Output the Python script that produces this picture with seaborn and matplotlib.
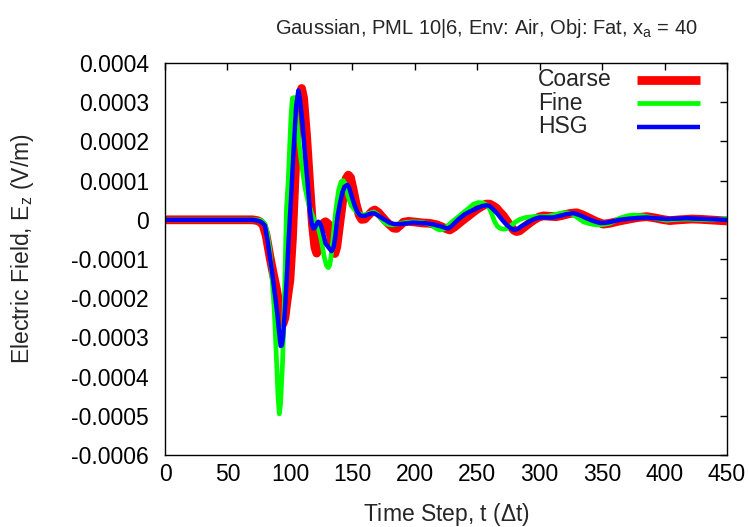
import numpy as np
import pandas as pd
import matplotlib
matplotlib.use("Agg")
import matplotlib.pyplot as plt
from matplotlib.lines import Line2D
import seaborn as sns

# Electric field samples (time step, E_z in V/m) for the three grid setups
coarse_t = [0, 70, 74, 76.5, 78.7, 81, 84, 86.5, 89.4, 91.5, 93, 94.5, 96, 98, 100,
            102, 104, 106, 107.8, 109.4, 111, 113.4, 116, 118, 120, 121.5, 123, 125,
            127, 128.5, 130.5, 132.5, 134, 136, 137.5, 139.5, 141.5, 143.5, 145, 146.8,
            148.5, 150.5, 153, 155.5, 157.5, 160, 163, 166, 168, 171, 174, 177, 180,
            182.8, 185.5, 188, 191, 195, 201, 206, 212, 218, 223, 228, 232, 235, 238.5,
            243, 249, 254, 257, 260, 263, 265.6, 268, 271, 274, 277, 279.5, 281.6, 284,
            288, 292, 296, 299.5, 303, 308, 313.5, 318, 324, 329.6, 334, 340, 345, 351,
            356, 364, 372, 379, 385.6, 392, 398, 404, 412, 422, 430, 440, 450]
coarse_e = [0, 0, -0.000002, -0.000006, -0.000015, -0.00004, -0.000094, -0.000135,
            -0.000179, -0.00022, -0.00025, -0.000265, -0.00025, -0.0002, -0.000154,
            -0.00005, 0.0001, 0.00023, 0.00031, 0.000335, 0.00031, 0.000212, 0.000084,
            -0.00001, -0.00007, -0.000085, -0.00007, -0.00003, -0.000008, -0.000005,
            -0.00001, -0.00004, -0.00007, -0.000086, -0.00007, -0.00002, 0.00003,
            0.00008, 0.000105, 0.000114, 0.000108, 0.00008, 0.00004, 0.000012, 0.000001,
            0.000002, 0.000012, 0.000022, 0.000025, 0.000018, 0.000007, -0.000004,
            -0.000013, -0.000021, -0.000022, -0.000015, -0.000006, -0.000004, -0.000006,
            -0.000008, -0.000009, -0.000013, -0.00002, -0.000026, -0.000018, -0.00001,
            -0.000001, 0.00001, 0.000025, 0.000035, 0.00004, 0.00004, 0.000035, 0.000029,
            0.00002, 0.00001, -0.000004, -0.000018, -0.000027, -0.00003, -0.000028,
            -0.000018, -0.000008, 0.000001, 0.000007, 0.00001, 0.000009, 0.000008,
            0.000011, 0.000016, 0.000018, 0.000013, 0.000004, -0.000004, -0.000011,
            -0.000009, -0.000003, 0.000002, 0.000006, 0.000008, 0.000005, 0.000001,
            -0.000002, 0, 0.000002, 0.000001, -0.000001, -0.000003]

fine_t = [0, 72, 76, 78, 80, 82, 84, 86, 87.5, 89.4, 90.5, 91.5, 92.5, 94.1, 95, 96,
          97.3, 98.7, 100, 101, 102, 103.3, 105, 106.8, 109, 112, 115, 117.4, 120,
          122.7, 125, 127.5, 129.5, 130.8, 132, 133.5, 135, 137, 139, 141, 142.8,
          144.5, 146.5, 149, 152, 155, 158.8, 163, 167.3, 170, 173, 176, 179, 182,
          186, 192, 199, 204, 209.5, 214, 217, 220, 223, 226, 229.5, 233.5, 238, 243,
          247, 251, 254.5, 257.5, 260, 262, 264, 266, 268.5, 271, 274, 277, 280.5,
          284, 289, 295, 301, 307, 313, 319, 323, 327, 331, 335, 340, 345.6, 351, 356,
          360, 364, 370, 375, 383, 392, 401.6, 410, 418, 426, 433, 440, 450]
fine_e = [0, 0, -0.000001, -0.000004, -0.00001, -0.000035, -0.00008, -0.00016,
          -0.00023, -0.000366, -0.00045, -0.000495, -0.00047, -0.000366, -0.00027,
          -0.000154, 0.00003, 0.0001, 0.0002, 0.00027, 0.00031, 0.000312, 0.00027,
          0.000212, 0.00015, 0.000084, 0.00004, 0.000017, -0.000005, -0.00002,
          -0.00005, -0.000095, -0.000118, -0.000122, -0.000115, -0.00008, -0.00003,
          0.00003, 0.000075, 0.000097, 0.0001, 0.00009, 0.00006, 0.000037, 0.000025,
          0.000016, 0.000012, 0.000016, 0.00002, 0.000014, 0.000003, -0.000008,
          -0.000012, -0.000013, -0.000011, -0.000007, -0.000005, -0.000006, -0.000009,
          -0.000014, -0.000022, -0.000026, -0.000024, -0.000016, -0.000006, 0.000004,
          0.000016, 0.000029, 0.00004, 0.000044, 0.000043, 0.000038, 0.000028,
          0.000012, -0.000005, -0.000016, -0.000022, -0.000024, -0.000022, -0.000015,
          -0.000006, 0.000001, 0.000006, 0.000008, 0.000008, 0.000009, 0.000014,
          0.000018, 0.000017, 0.000013, 0.000004, -0.000005, -0.00001, -0.000013,
          -0.000012, -0.000009, -0.000003, 0.000004, 0.00001, 0.000012, 0.00001,
          0.000004, -0.000001, 0.000001, 0.000002, 0.000001, 0, 0, 0.000003]

hsg_t = [0, 70, 74, 76, 78, 80, 82, 84, 86, 88, 90, 91.5, 92.6, 93.5, 94.5, 96, 97.4,
         99, 101, 103, 105, 106.8, 108, 110, 112, 114, 116, 117.5, 118.7, 120, 121.5,
         122.7, 124, 125.5, 127, 128.5, 130.8, 133.4, 135, 136.5, 138, 140, 142, 144,
         146.1, 147.5, 149.5, 152, 154, 156, 158, 160, 163, 166, 168, 171, 174, 177,
         180, 184, 188, 193, 198.8, 204, 209.5, 215, 220, 224, 226.8, 229.5, 232.5,
         236, 240, 243.5, 246.8, 250, 254, 257.5, 260, 263, 266, 268, 271, 274, 277,
         280, 283, 286, 289.4, 293, 296.5, 300, 305, 311, 316, 321, 327, 332, 337.6,
         343, 348, 352, 356, 364, 372, 380, 385.6, 393, 401.6, 410, 417.7, 425, 433,
         441, 450]
hsg_e = [0, 0, -0.000002, -0.000004, -0.000008, -0.000015, -0.00005, -0.000095,
         -0.00014, -0.00019, -0.000242, -0.00029, -0.000322, -0.00032, -0.0003,
         -0.00023, -0.000154, -0.00005, 0.00006, 0.00018, 0.00029, 0.00033, 0.00031,
         0.00025, 0.00017, 0.0001, 0.000025, -0.00001, -0.000022, -0.00002, -0.00001,
         -0.000005, -0.000008, -0.00002, -0.00004, -0.00006, -0.00007, -0.00008,
         -0.00007, -0.00004, 0.000005, 0.00004, 0.00007, 0.000085, 0.000089, 0.000082,
         0.00006, 0.000035, 0.00002, 0.000012, 0.00001, 0.00001, 0.000014, 0.000017,
         0.000016, 0.00001, 0.000004, -0.000002, -0.000008, -0.000011, -0.000011,
         -0.000009, -0.000007, -0.000008, -0.000009, -0.000012, -0.000016, -0.00002,
         -0.000022, -0.000016, -0.000006, 0.000004, 0.000014, 0.00002, 0.000025,
         0.00003, 0.000035, 0.000037, 0.000035, 0.000026, 0.000016, 0.000008,
         -0.000004, -0.000014, -0.000022, -0.000026, -0.000022, -0.000015, -0.000009,
         -0.000002, 0.000003, 0.000006, 0.000006, 0.000006, 0.00001, 0.000014,
         0.000017, 0.000012, 0.000004, -0.000003, -0.000008, -0.000008, -0.000006, 0,
         0.000003, 0.000005, 0.000006, 0.000004, 0.000002, 0.000003, 0.000004,
         0.000003, 0.000002, 0.000001, 0]

x_ticks = [0, 50, 100, 150, 200, 250, 300, 350, 400, 450]
y_ticks = [-0.0006, -0.0005, -0.0004, -0.0003, -0.0002, -0.0001, 0,
           0.0001, 0.0002, 0.0003, 0.0004]
y_tick_labels = ["-0.0006", "-0.0005", "-0.0004", "-0.0003", "-0.0002", "-0.0001",
                 "0", "0.0001", "0.0002", "0.0003", "0.0004"]

sns.set_style("white")
plt.rcParams["font.family"] = ["Liberation Sans", "DejaVu Sans"]
plt.rcParams["mathtext.fontset"] = "custom"
plt.rcParams["mathtext.rm"] = "Liberation Sans"
plt.rcParams["mathtext.it"] = "Liberation Sans"

FS = 16.5
W, H = 749, 527
fig = plt.figure(figsize=(W / 100, H / 100), dpi=100)
ax = fig.add_axes([165 / W, 1 - 455 / H, 562 / W, 392 / H])

series = [
    ("Coarse", coarse_t, coarse_e, "#ff0000", 6.3),
    ("Fine", fine_t, fine_e, "#00ff00", 3.4),
    ("HSG", hsg_t, hsg_e, "#0000ff", 3.2),
]
for name, t, e, color, lw in series:
    df = pd.DataFrame({"t": t, "E": e})
    sns.lineplot(data=df, x="t", y="E", ax=ax, color=color, linewidth=lw,
                 sort=False, solid_capstyle="butt", legend=False)

ax.set_xlim(0, 450)
ax.set_ylim(-0.0006, 0.0004)
ax.set_xticks(x_ticks)
ax.set_xticklabels([str(v) for v in x_ticks])
ax.set_yticks(y_ticks)
ax.set_yticklabels(y_tick_labels)
ax.tick_params(direction="in", length=5, width=1, top=True, right=True,
               labelsize=FS, colors="black")
ax.tick_params(axis="y", pad=11.5)
ax.tick_params(axis="x", pad=6)
for sp in ax.spines.values():
    sp.set_color("black")
    sp.set_linewidth(1)

ax.set_xlabel(r"Time Step, t ($\Delta$t)", fontsize=FS)
ax.xaxis.set_label_coords((446.5 - 165) / 562, (455 - 514) / 392)
ax.xaxis.label.set_va("center")
ax.set_ylabel(r"Electric Field, E$_\mathregular{z}$ (V/m)", fontsize=FS)
ax.yaxis.set_label_coords((23 - 165) / 562, (455 - 249) / 392)
ax.yaxis.label.set_va("center")

fig.text(486 / W, 1 - 28 / H,
         r"Gaussian, PML 10|6, Env: Air, Obj: Fat, x$_\mathregular{a}$ = 40",
         ha="center", va="center", fontsize=14.5)

# key: left-aligned names, sample lines to their right
key_rows = [80, 103.3, 126.7]
for (name, _, _, color, lw), y in zip(series, key_rows):
    yf = 1 - y / H
    fig.add_artist(Line2D([637 / W, 700 / W], [yf, yf], color=color,
                          linewidth=lw, solid_capstyle="butt"))
    fig.text(538 / W, yf, name, ha="left", va="center", fontsize=FS)

fig.savefig("out.png", dpi=100)
